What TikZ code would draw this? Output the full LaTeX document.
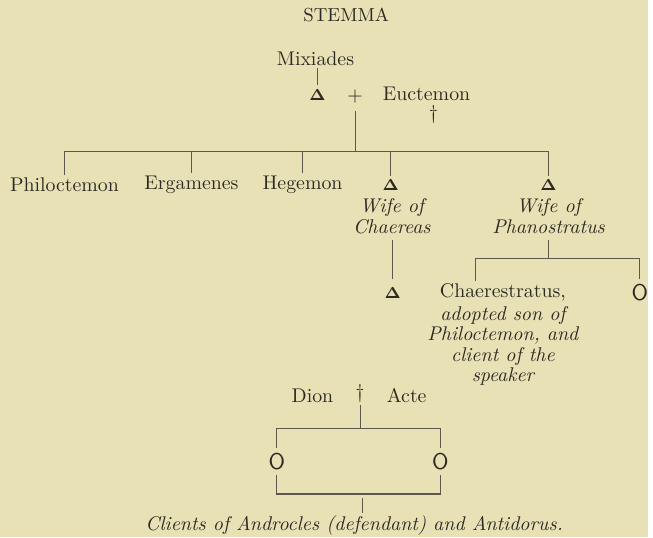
\documentclass[tikz,border=0pt]{standalone}
\usetikzlibrary{positioning}
\definecolor{paper}{RGB}{232,225,181}
\definecolor{ink}{RGB}{45,42,36}
\definecolor{rule}{RGB}{92,88,78}
\tikzset{
  every node/.style={inner sep=1pt, text=ink, font=\fontsize{10}{10.3}\selectfont},
  note/.style={font=\fontsize{10}{10.3}\selectfont\itshape, align=center},
  tri/.style={inner sep=2pt, font=\fontsize{8.5}{8.5}\selectfont},
  ring/.style={inner sep=2.5pt, font=\fontsize{11.5}{11.5}\selectfont},
  line/.style={draw=rule, line width=0.55pt},
}
\newcommand{\tri}{$\mathbf{\Delta}$}
\newcommand{\ring}{\textsf{O}}
\begin{document}
\begin{tikzpicture}[x=0.5pt,y=-0.5pt]
\fill[paper] (0,0) rectangle (653,541);
% upper generation
\node[font=\fontsize{9.5}{10}\selectfont] (title) at (349,15) {STEMMA};
\node (mix) at (318,59) {Mixiades};
\node[tri] (d1) at (320,96) {\tri};
\node (plus) at (358,97) {$+$};
\node (euc) at (430,95) {Euctemon};
\node (dag1) at (437,116) {\dag};
\draw[line] (d1.north |- mix.south) -- (d1.north);
% children
\coordinate (bar) at (358,153);
\node (phil) at (65,186) {Philoctemon};
\node (erg) at (193,186) {Ergamenes};
\node (heg) at (305,186) {Hegemon};
\node[tri] (d2) at (394,187) {\tri};
\node[tri] (d3) at (553,187) {\tri};
\node[note] (wc) at (395,218) {Wife of\\Chaereas};
\node[note] (wp) at (553,218) {Wife of\\Phanostratus};
\draw[line, shorten <=3pt] (plus.south) -- (bar);
\draw[line] (phil.north) |- (d3.north |- bar) -- (d3.north);
\foreach \c in {erg,heg,d2}
  \draw[line] (\c.north) -- (\c.north |- bar);
% grandchildren
\node[tri] (d4) at (396,295) {\tri};
\draw[line, shorten <=2pt, shorten >=2pt] (wc.south -| d4) -- (d4.north);
\coordinate (bar2) at (553,261);
\coordinate (kc) at (479,283);
\node[ring] (ring1) at (645,295) {\ring};
\node (chae) at (507,295) {Chaerestratus,};
\node[note, below=0pt of chae] (chnote) {adopted son of\\Philoctemon, and\\client of the\\speaker};
\draw[line, shorten <=2pt] (wp.south) -- (wp.south |- bar2);
\draw[line] (kc) |- (ring1.north |- bar2) -- (ring1.north);
% second family
\node (dion) at (315,399) {Dion};
\node (dag2) at (363,397) {\dag};
\node (acte) at (410,399) {Acte};
\coordinate (bar3) at (363,432);
\coordinate (bar4) at (365,498);
\node[ring] (ring2) at (279,465) {\ring};
\node[ring] (ring3) at (444,465) {\ring};
\node[note] (cap) at (357,530) {Clients of Androcles (defendant) and Antidorus.};
\draw[line] (dag2.south) -- (bar3);
\draw[line] (ring2.north) |- (bar3) -| (ring3.north);
\draw[line] (ring2.south) |- (bar4) -| (ring3.south);
\draw[line, shorten <=2pt] (bar4) -- (bar4 |- cap.north);
\end{tikzpicture}
\end{document}
